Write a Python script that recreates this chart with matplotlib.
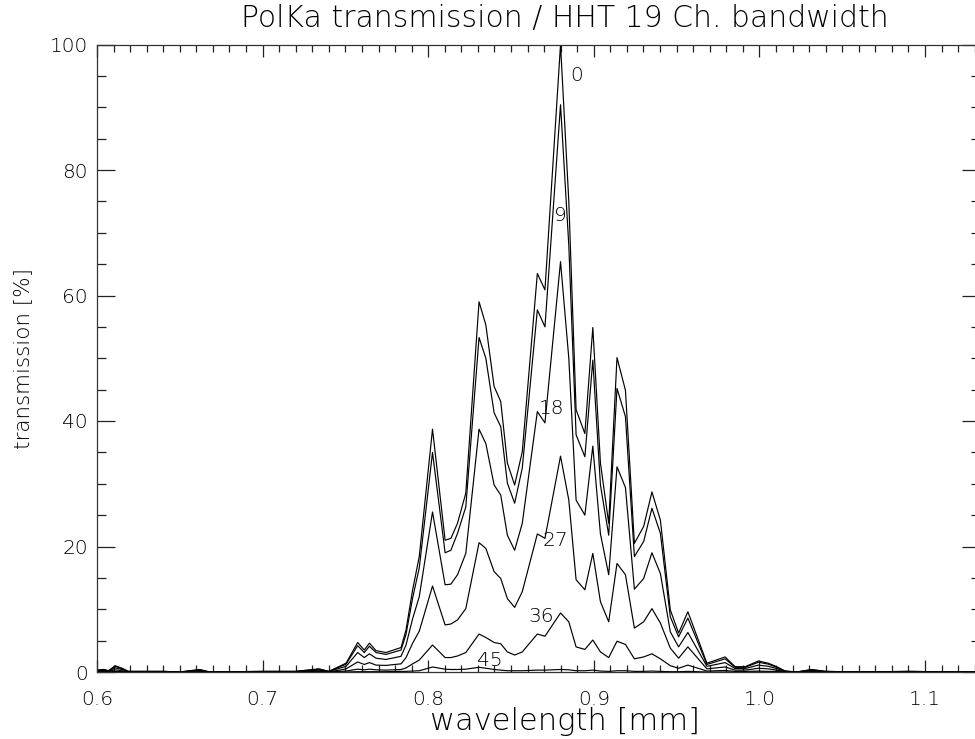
import matplotlib
matplotlib.use("Agg")
import matplotlib.pyplot as plt
from matplotlib.ticker import MultipleLocator, FormatStrFormatter

plt.rcParams['font.family'] = ['DejaVu Sans']
plt.rcParams['font.weight'] = 'light'

# wavelength [mm] of the polyline vertices
wl = [0.600, 0.604, 0.607, 0.611, 0.615, 0.619, 0.640, 0.650, 0.662, 0.668,
      0.700, 0.720, 0.734, 0.740, 0.7464, 0.7504, 0.7574, 0.7614, 0.7645, 0.7685,
      0.7745, 0.7836, 0.7866, 0.7906, 0.7946, 0.8026, 0.8102, 0.8137, 0.8177, 0.8227,
      0.8307, 0.8348, 0.8398, 0.8438, 0.8478, 0.8522, 0.8568, 0.8659, 0.8705, 0.8799,
      0.8849, 0.8893, 0.8946, 0.8994, 0.9040, 0.9090, 0.9140, 0.9191, 0.9245, 0.9301,
      0.9351, 0.9402, 0.9462, 0.9512, 0.9568, 0.9683, 0.9793, 0.9853, 0.9914, 0.9994,
      1.0054, 1.0104, 1.0155, 1.0225, 1.0315, 1.0400, 1.0600, 1.0900, 1.1200, 1.1400]

# transmission [%] for each rotation angle
t0 = [0.3, 0.4, 0.2, 1.0, 0.6, 0.1, 0.1, 0.0, 0.4, 0.0,
      0.1, 0.1, 0.5, 0.1, 0.9, 1.4, 4.7, 3.5, 4.6, 3.4,
      3.1, 3.9, 6.7, 13.1, 18.4, 38.7, 21.0, 21.3, 23.7, 28.5,
      59.0, 55.3, 45.5, 43.1, 33.3, 29.8, 35.1, 63.5, 60.9, 100.0,
      75.0, 41.8, 38.0, 54.9, 33.3, 23.7, 50.1, 44.9, 20.5, 23.2,
      28.7, 24.2, 9.9, 6.2, 9.6, 1.4, 2.4, 0.85, 0.85, 1.75,
      1.4, 0.85, 0.15, 0.0, 0.4, 0.1, 0.0, 0.1, 0.0, 0.0]
t9 = [0.3, 0.35, 0.2, 0.9, 0.55, 0.1, 0.1, 0.0, 0.35, 0.0,
      0.1, 0.1, 0.45, 0.1, 0.8, 1.25, 4.2, 3.1, 4.1, 3.1,
      2.8, 3.5, 6.0, 11.8, 16.6, 35.0, 19.0, 19.4, 22.1, 26.3,
      53.3, 50.0, 41.3, 39.1, 30.1, 26.9, 32.5, 57.7, 55.0, 90.4,
      68.0, 37.8, 34.3, 49.7, 29.8, 21.8, 45.2, 40.7, 18.4, 20.8,
      26.1, 22.1, 8.8, 5.6, 8.6, 1.2, 2.1, 0.75, 0.75, 1.55,
      1.25, 0.75, 0.15, 0.0, 0.35, 0.1, 0.0, 0.1, 0.0, 0.0]
t18 = [0.2, 0.25, 0.15, 0.65, 0.4, 0.05, 0.05, 0.0, 0.25, 0.0,
       0.05, 0.05, 0.3, 0.05, 0.6, 0.9, 3.1, 2.3, 2.9, 2.2,
       2.0, 2.5, 4.3, 8.5, 12.0, 25.5, 13.9, 14.0, 15.5, 18.9,
       38.7, 36.4, 29.8, 28.2, 21.8, 19.4, 23.7, 41.5, 39.7, 65.4,
       50.0, 27.4, 25.0, 36.0, 22.0, 15.5, 32.7, 29.4, 13.2, 14.9,
       19.0, 15.7, 6.4, 4.0, 6.3, 0.9, 1.5, 0.55, 0.55, 1.1,
       0.9, 0.55, 0.1, 0.0, 0.25, 0.05, 0.0, 0.05, 0.0, 0.0]
t27 = [0.1, 0.15, 0.1, 0.35, 0.2, 0.0, 0.0, 0.0, 0.15, 0.0,
       0.0, 0.0, 0.15, 0.0, 0.3, 0.5, 1.6, 1.2, 1.5, 1.1,
       1.05, 1.3, 2.3, 4.6, 6.5, 13.7, 7.5, 7.65, 8.3, 10.1,
       20.6, 19.7, 16.0, 14.9, 11.7, 10.3, 12.8, 22.0, 21.3, 34.4,
       27.4, 14.7, 13.1, 18.9, 11.2, 8.0, 17.3, 15.5, 7.0, 8.0,
       10.1, 7.8, 3.8, 2.2, 4.0, 0.5, 0.8, 0.3, 0.3, 0.6,
       0.5, 0.3, 0.05, 0.0, 0.15, 0.0, 0.0, 0.0, 0.0, 0.0]
t36 = [0.0, 0.05, 0.0, 0.1, 0.05, 0.0, 0.0, 0.0, 0.05, 0.0,
       0.0, 0.0, 0.05, 0.0, 0.1, 0.15, 0.45, 0.35, 0.45, 0.35,
       0.3, 0.4, 0.65, 1.3, 1.9, 4.3, 2.3, 2.3, 2.55, 3.1,
       6.05, 5.5, 4.7, 4.5, 3.2, 2.7, 3.2, 6.05, 5.7, 9.4,
       8.0, 4.0, 3.6, 5.1, 3.2, 2.3, 4.9, 4.4, 2.1, 2.4,
       2.9, 2.1, 1.0, 0.6, 1.1, 0.15, 0.25, 0.1, 0.1, 0.15,
       0.1, 0.1, 0.0, 0.0, 0.05, 0.0, 0.0, 0.0, 0.0, 0.0]
t45 = [0.0, 0.0, 0.0, 0.0, 0.0, 0.0, 0.0, 0.0, 0.0, 0.0,
       0.0, 0.0, 0.0, 0.0, 0.0, 0.0, 0.05, 0.05, 0.05, 0.05,
       0.05, 0.1, 0.1, 0.15, 0.2, 0.8, 0.45, 0.4, 0.4, 0.45,
       0.75, 0.6, 0.4, 0.3, 0.2, 0.2, 0.2, 0.3, 0.3, 0.4,
       0.35, 0.2, 0.2, 0.3, 0.15, 0.1, 0.2, 0.2, 0.1, 0.1,
       0.15, 0.1, 0.05, 0.05, 0.1, 0.0, 0.0, 0.0, 0.0, 0.0,
       0.0, 0.0, 0.0, 0.0, 0.0, 0.0, 0.0, 0.0, 0.0, 0.0]

curves = [t0, t9, t18, t27, t36, t45]

# angle labels and where they sit
angle_labels = ['0', '9', '18', '27', '36', '45']
label_x = [0.8898, 0.8800, 0.8745, 0.8770, 0.8680, 0.8375]
label_y = [95.0, 72.8, 42.0, 21.0, 8.8, 1.9]

W, H = 975, 739
fig = plt.figure(figsize=(W / 100, H / 100), dpi=100)
ax = fig.add_axes([97 / W, 1 - 672 / H, (980 - 97) / W, (672 - 44.5) / H])

for t in curves:
    ax.plot(wl, t, color='black', linewidth=0.85)

for s, x, y in zip(angle_labels, label_x, label_y):
    ax.text(x, y, s, fontsize=14.5, ha='center', va='center', color='black')

ax.set_xlim(0.6, 1.1332)
ax.set_ylim(0, 100)

ax.xaxis.set_major_locator(MultipleLocator(0.1))
ax.xaxis.set_minor_locator(MultipleLocator(0.01))
ax.xaxis.set_major_formatter(FormatStrFormatter('%.1f'))
ax.yaxis.set_major_locator(MultipleLocator(20))
ax.yaxis.set_minor_locator(MultipleLocator(5))
ax.yaxis.set_major_formatter(FormatStrFormatter('%d'))

ax.tick_params(which='both', direction='in', top=True, right=True,
               color='#222222', width=0.9, labelsize=14.5, labelcolor='black')
ax.tick_params(axis='x', which='major', length=8.6, pad=13)
ax.tick_params(axis='x', which='minor', length=4.7)
ax.tick_params(axis='y', which='major', length=13, pad=6.5)
ax.tick_params(axis='y', which='minor', length=6.5)

for sp in ax.spines.values():
    sp.set_linewidth(0.9)
    sp.set_color('#333333')

fig.text(565 / W, 1 - 19 / H, 'PolKa transmission / HHT 19 Ch. bandwidth',
         fontsize=21.5, ha='center', va='center', color='black')
fig.text(565 / W, 1 - 722 / H, 'wavelength [mm]',
         fontsize=22, ha='center', va='center', color='black')
fig.text(23.5 / W, 1 - 359 / H, 'transmission [%]', rotation=90,
         fontsize=15.5, ha='center', va='center', color='black')

fig.savefig('out.png', dpi=100)
